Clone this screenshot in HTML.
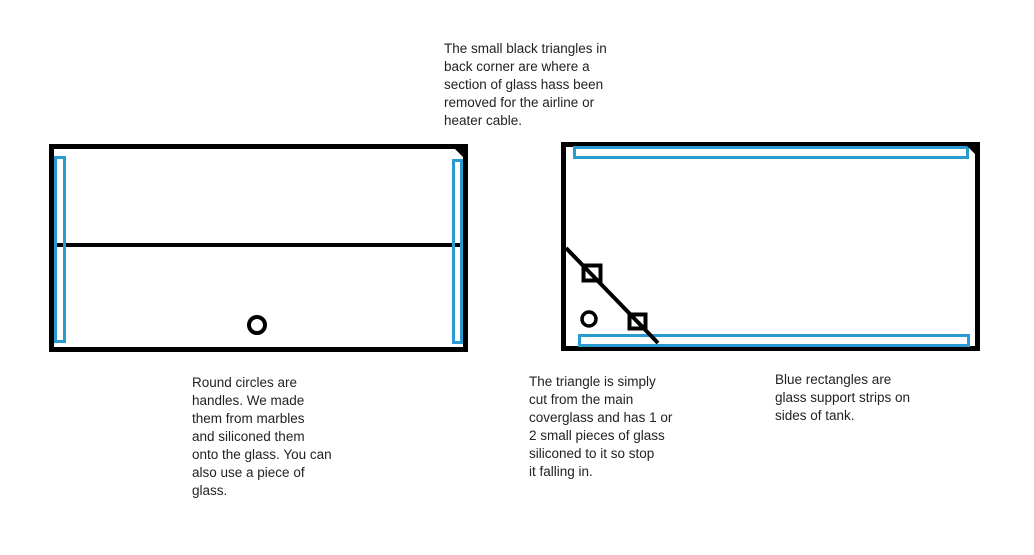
<!DOCTYPE html>
<html><head><meta charset="utf-8"><style>
html,body{margin:0;padding:0;background:#fff;}
body{width:1034px;height:555px;position:relative;overflow:hidden;font-family:"Liberation Sans",sans-serif;}
.t{position:absolute;font-size:13.5px;line-height:18px;color:#222;white-space:nowrap;}
svg{position:absolute;left:0;top:0;}
</style></head><body>
<svg width="1034" height="555">
<g fill="none">
<rect x="51.5" y="146.5" width="414" height="203" stroke="#000" stroke-width="5"/>
<line x1="54" y1="245" x2="463" y2="245" stroke="#000" stroke-width="4"/>
<rect x="55.5" y="157.5" width="9" height="184" stroke="#2a9bd0" stroke-width="3"/>
<rect x="453.5" y="160.5" width="8" height="182" stroke="#2a9bd0" stroke-width="3"/>
<circle cx="257" cy="325" r="8" stroke="#000" stroke-width="4"/>
<rect x="563.5" y="144.5" width="414" height="204" stroke="#000" stroke-width="5"/>
<rect x="574.5" y="147.5" width="393" height="10" stroke="#2a9bd0" stroke-width="3"/>
<rect x="579.5" y="335.5" width="389" height="10" stroke="#2a9bd0" stroke-width="3"/>
<line x1="566" y1="248" x2="658" y2="343" stroke="#000" stroke-width="4"/>
<rect x="583.5" y="265.5" width="17" height="15" stroke="#000" stroke-width="4"/>
<rect x="629.5" y="314.5" width="16" height="14" stroke="#000" stroke-width="4"/>
<circle cx="589" cy="319" r="7" stroke="#000" stroke-width="3.5"/>
</g>
<polygon points="452,146 464,146 464,158" fill="#000"/>
<polygon points="966,145 976,145 976,155" fill="#000"/>
</svg>
<div class="t" style="left:444px;top:40px;">The small black triangles in<br>back corner are where a<br>section of glass hass been<br>removed for the airline or<br>heater cable.</div>
<div class="t" style="left:192px;top:374px;">Round circles are<br>handles. We made<br>them from marbles<br>and siliconed them<br>onto the glass. You can<br>also use a piece of<br>glass.</div>
<div class="t" style="left:529px;top:373px;">The triangle is simply<br>cut from the main<br>coverglass and has 1 or<br>2 small pieces of glass<br>siliconed to it so stop<br>it falling in.</div>
<div class="t" style="left:775px;top:371px;">Blue rectangles are<br>glass support strips on<br>sides of tank.</div>
</body></html>
